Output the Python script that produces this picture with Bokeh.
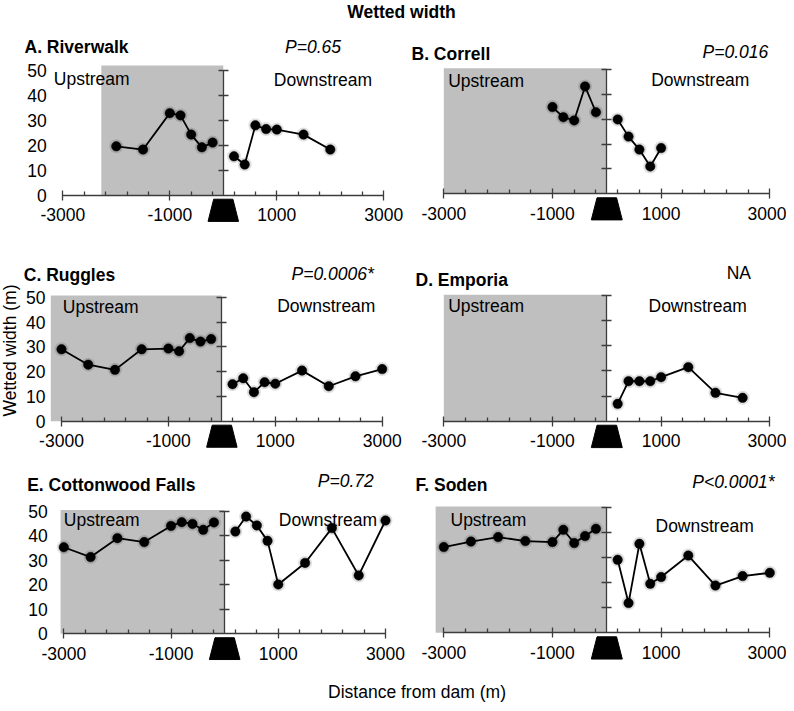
from bokeh.plotting import figure
from bokeh.models import Range1d, LinearAxis, FixedTicker, Label
from bokeh.embed import file_html
from bokeh.resources import INLINE

# ---------------- data (distance from dam, m ; wetted width, m) ----------------
A_up_x = [-2000, -1500, -1000, -800, -600, -400, -200]
A_up_y = [19.6, 18.3, 32.9, 32.0, 24.3, 19.2, 21.1]
A_dn_x = [200, 400, 600, 800, 1000, 1500, 2000]
A_dn_y = [15.6, 12.3, 28.0, 26.5, 26.3, 24.3, 18.3]

B_up_x = [-1000, -800, -600, -400, -200]
B_up_y = [34.9, 30.8, 29.5, 43.2, 32.8]
B_dn_x = [200, 400, 600, 800, 1000]
B_dn_y = [29.9, 23.0, 17.8, 11.0, 18.4]

C_up_x = [-3000, -2500, -2000, -1500, -1000, -800, -600, -400, -200]
C_up_y = [29.0, 22.8, 20.7, 29.0, 29.3, 28.2, 33.5, 32.1, 33.1]
C_dn_x = [200, 400, 600, 800, 1000, 1500, 2000, 2500, 3000]
C_dn_y = [14.9, 17.3, 11.7, 15.7, 15.1, 20.4, 14.1, 18.1, 21.0]

D_up_x = []
D_up_y = []
D_dn_x = [200, 400, 600, 800, 1000, 1500, 2000, 2500]
D_dn_y = [6.9, 15.9, 15.9, 15.9, 17.5, 21.5, 11.3, 9.3]

E_up_x = [-3000, -2500, -2000, -1500, -1000, -800, -600, -400, -200]
E_up_y = [35.3, 31.3, 39.0, 37.4, 44.0, 45.5, 44.8, 42.4, 45.4]
E_dn_x = [200, 400, 600, 800, 1000, 1500, 2000, 2500, 3000]
E_dn_y = [41.7, 47.8, 44.2, 37.9, 20.1, 28.9, 43.1, 23.8, 46.2]

F_up_x = [-3000, -2500, -2000, -1500, -1000, -800, -600, -400, -200]
F_up_y = [34.3, 36.5, 38.3, 36.7, 36.3, 41.2, 35.9, 38.7, 41.6]
F_dn_x = [200, 400, 600, 800, 1000, 1500, 2000, 2500, 3000]
F_dn_y = [29.2, 11.9, 35.6, 19.6, 22.3, 30.9, 18.9, 22.7, 24.0]

titles = ["A. Riverwalk", "B. Correll", "C. Ruggles", "D. Emporia",
          "E. Cottonwood Falls", "F. Soden"]
pvalues = ["P=0.65", "P=0.016", "P=0.0006*", "NA", "P=0.72", "P<0.0001*"]

x_major = [-3000, -1000, 1000, 3000]
x_minor = [-2600, -2200, -1800, -1400, -600, -200, 200, 600, 1400, 1800, 2200, 2600]
x_labels = {-3000: "-3000", -1000: "-1000", 1000: "1000", 3000: "3000"}
y_ticks = [0, 10, 20, 30, 40, 50]

# ---------------- layout (page pixel positions) ----------------
W, H = 786, 703
FONT = "Liberation Sans"
FS = "17.5px"
GRAY = "#bfbfbf"
AX = "#3c3c3c"

# key: (px of -3000, px of 3000, py of 0, py of 50, shade left, shade top, left labels)
layout = {
    "A": (62.3, 383.3, 194.7, 70.0, -2280, 52.0, True),
    "B": (443.3, 769.3, 193.3, 69.0, -3000, 50.5, False),
    "C": (61.0, 381.7, 420.7, 296.7, -3200, 50.7, True),
    "D": (443.3, 769.3, 420.7, 295.0, -3000, 50.3, False),
    "E": (63.3, 385.0, 633.3, 510.7, -3060, 50.5, True),
    "F": (443.3, 769.3, 632.3, 507.3, -3150, 50.5, False),
}
series = {
    "A": (A_up_x, A_up_y, A_dn_x, A_dn_y),
    "B": (B_up_x, B_up_y, B_dn_x, B_dn_y),
    "C": (C_up_x, C_up_y, C_dn_x, C_dn_y),
    "D": (D_up_x, D_up_y, D_dn_x, D_dn_y),
    "E": (E_up_x, E_up_y, E_dn_x, E_dn_y),
    "F": (F_up_x, F_up_y, F_dn_x, F_dn_y),
}
# text positions: title (x,y), p-value (x,y,align), upstream (x,y), downstream (x,y)
text_pos = {
    "A": ((24.0, 46.7), (312.5, 46.0, "center"), (53.3, 78.3), (273.3, 79.0)),
    "B": ((411.0, 53.3), (767.7, 51.7, "right"), (447.7, 80.7), (650.7, 79.3)),
    "C": ((23.3, 274.3), (373.3, 273.3, "right"), (62.3, 306.0), (276.7, 305.7)),
    "D": ((415.0, 279.3), (738.3, 272.7, "center"), (447.7, 305.7), (648.0, 305.0)),
    "E": ((26.7, 484.3), (345.3, 480.7, "center"), (63.3, 519.0), (278.3, 519.0)),
    "F": ((415.0, 484.0), (774.0, 481.0, "right"), (450.0, 519.0), (655.0, 525.0)),
}
DAM_X = [-180, 180, 285, -285]
DAM_Y = [-1.6, -1.6, -10.5, -10.5]

p = figure(width=W, height=H, output_backend="svg", toolbar_location=None,
           x_range=Range1d(0, W), y_range=Range1d(H, 0),
           x_axis_location=None, y_axis_location=None, min_border=0,
           outline_line_color=None, background_fill_color="white")
for g in p.grid:
    g.visible = False


def lab(text, x, y, align="left", bold=False, italic=False, angle=0.0, level="annotation"):
    style = "bold" if bold else ("italic" if italic else "normal")
    p.add_layout(Label(x=x, y=y, text=text, text_align=align, text_baseline="middle",
                       text_font=FONT, text_font_size=FS, text_font_style=style,
                       text_color="black", angle=angle, level=level))


keys = ["A", "B", "C", "D", "E", "F"]
for i, key in enumerate(keys):
    xa, xb, y0, y50, shade_left, shade_top, left_labels = layout[key]
    k = (xb - xa) / 6000.0
    s = (y0 - y50) / 50.0
    xr, yr = "x" + key, "y" + key
    p.extra_x_ranges[xr] = Range1d(-3000 - xa / k, -3000 + (W - xa) / k)
    p.extra_y_ranges[yr] = Range1d((y0 - H) / s, y0 / s)
    kw = dict(x_range_name=xr, y_range_name=yr)

    p.quad(left=[shade_left], right=[0], bottom=[0], top=[shade_top],
           fill_color=GRAY, line_color=None, level="image", **kw)
    p.patch(DAM_X, DAM_Y, fill_color="black", line_color="black", **kw)

    up_x, up_y, dn_x, dn_y = series[key]
    for xs, ys in ((up_x, up_y), (dn_x, dn_y)):
        if not xs:
            continue
        p.line(xs, ys, line_color="black", line_width=1.8, **kw)
        p.scatter(xs, ys, size=14, fill_color="black", fill_alpha=0.12,
                  line_color=None, **kw)
        p.scatter(xs, ys, size=9.5, fill_color="black", line_color="black",
                  line_width=0.5, **kw)

    xaxis = LinearAxis(fixed_location=0, bounds=(-3000, 3000),
                       ticker=FixedTicker(ticks=x_major, minor_ticks=x_minor),
                       major_label_overrides=x_labels,
                       major_tick_in=5, major_tick_out=5, minor_tick_in=4, minor_tick_out=0,
                       major_label_standoff=8, axis_line_color=AX, axis_line_width=1.3,
                       major_tick_line_color=AX, minor_tick_line_color=AX,
                       major_tick_line_width=1.3, minor_tick_line_width=1.3,
                       major_label_text_font=FONT, major_label_text_font_size=FS,
                       major_label_text_color="black", **kw)
    p.add_layout(xaxis, "below")

    yaxis = LinearAxis(fixed_location=0, bounds=(0, 50),
                       ticker=FixedTicker(ticks=y_ticks[1:]),
                       major_tick_in=5, major_tick_out=5, axis_line_color=AX,
                       axis_line_width=1.3, major_tick_line_color=AX,
                       major_tick_line_width=1.3, minor_tick_line_color=None,
                       major_label_text_color=None, **kw)
    p.add_layout(yaxis, "left")

    if left_labels:
        laxis = LinearAxis(fixed_location=-3000, ticker=FixedTicker(ticks=y_ticks),
                           axis_line_color=None, major_tick_line_color=None,
                           minor_tick_line_color=None, major_tick_in=0, major_tick_out=0,
                           major_label_standoff=16, major_label_text_font=FONT,
                           major_label_text_font_size=FS, major_label_text_color="black",
                           **kw)
        p.add_layout(laxis, "left")

    (tx, ty), (px_, py_, pal), (ux, uy), (dx, dy) = text_pos[key]
    lab(titles[i], tx, ty, bold=True)
    lab(pvalues[i], px_, py_, align=pal, italic=(pvalues[i] != "NA"))
    lab("Upstream", ux, uy, level="underlay")
    lab("Downstream", dx, dy, level="underlay")

lab("Wetted width", 401, 11, align="center", bold=True)
lab("Distance from dam (m)", 416.5, 691.5, align="center")
lab("Wetted width (m)", 9.5, 350, align="center", angle=1.5707963267948966)

open("out.html", "w").write(file_html(p, INLINE))
